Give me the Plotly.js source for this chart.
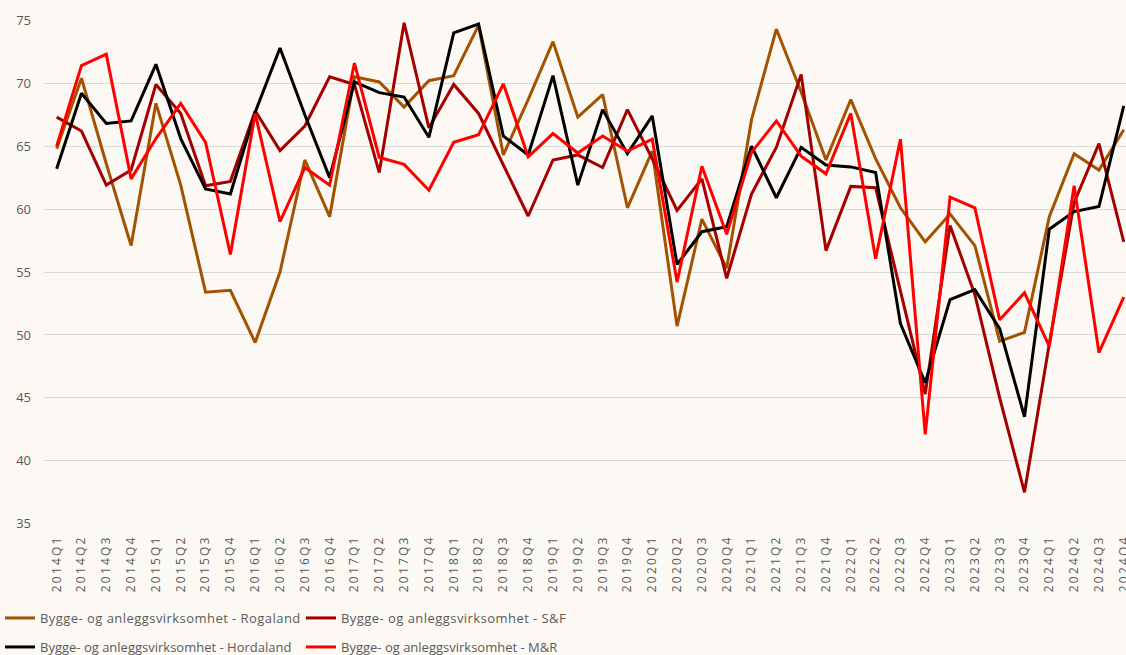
<!DOCTYPE html>
<html>
<head>
<meta charset="utf-8">
<script src="https://cdn.plot.ly/plotly-3.0.1.min.js"></script>
<style>
  html, body { margin: 0; padding: 0; background: #FCF9F4; }
  #chart { width: 1126px; height: 655px; }
  .xtick text { letter-spacing: 2.2px; }
  .legendtext { letter-spacing: 0.45px; }
</style>
</head>
<body>
<div id="chart"></div>
<script>
const quarters = [
  "2014Q1","2014Q2","2014Q3","2014Q4",
  "2015Q1","2015Q2","2015Q3","2015Q4",
  "2016Q1","2016Q2","2016Q3","2016Q4",
  "2017Q1","2017Q2","2017Q3","2017Q4",
  "2018Q1","2018Q2","2018Q3","2018Q4",
  "2019Q1","2019Q2","2019Q3","2019Q4",
  "2020Q1","2020Q2","2020Q3","2020Q4",
  "2021Q1","2021Q2","2021Q3","2021Q4",
  "2022Q1","2022Q2","2022Q3","2022Q4",
  "2023Q1","2023Q2","2023Q3","2023Q4",
  "2024Q1","2024Q2","2024Q3","2024Q4"
];

const rogaland = [
  64.8, 70.4, 63.6, 57.1,
  68.4, 61.9, 53.4, 53.55,
  49.4, 55.0, 63.9, 59.4,
  70.5, 70.1, 68.1, 70.2,
  70.6, 74.6, 64.3, 68.7,
  73.3, 67.3, 69.1, 60.1,
  64.6, 50.7, 59.2, 55.3,
  67.1, 74.3, 69.3, 63.9,
  68.7, 64.0, 60.1, 57.4,
  59.6, 57.1, 49.5, 50.2,
  59.4, 64.4, 63.1, 66.3
];

const hordaland = [
  63.2, 69.2, 66.8, 67.0,
  71.5, 65.6, 61.6, 61.2,
  67.7, 72.8, 67.5, 62.5,
  70.1, 69.25, 68.9, 65.7,
  74.0, 74.7, 65.8, 64.3,
  70.6, 61.9, 67.9, 64.4,
  67.4, 55.6, 58.2, 58.6,
  65.0, 60.9, 64.9, 63.5,
  63.35, 62.9, 50.9, 46.2,
  52.8, 53.6, 50.5, 43.5,
  58.4, 59.8, 60.2, 68.2
];

const sognFjordane = [
  67.3, 66.2, 61.9, 63.1,
  69.9, 67.6, 61.85, 62.2,
  67.8, 64.65, 66.6, 70.5,
  69.9, 62.9, 74.8, 66.45,
  69.9, 67.6, 63.5, 59.45,
  63.9, 64.3, 63.3, 67.9,
  64.0, 59.9, 62.4, 54.5,
  61.2, 64.9, 70.7, 56.7,
  61.8, 61.7, 53.5, 45.3,
  58.7, 53.2, 45.0, 37.5,
  49.3, 60.5, 65.2, 57.4
];

const moreRomsdal = [
  65.0, 71.4, 72.3, 62.4,
  65.6, 68.4, 65.3, 56.4,
  67.6, 59.0, 63.3, 61.9,
  71.6, 64.1, 63.55, 61.5,
  65.3, 65.9, 69.95, 64.15,
  66.0, 64.45, 65.8, 64.6,
  65.55, 54.2, 63.4, 58.0,
  64.5, 67.0, 64.2, 62.8,
  67.6, 56.05, 65.55, 42.1,
  60.95, 60.1, 51.2, 53.35,
  49.1, 61.85, 48.6, 53.0
];

const seriesNames = [
  "Bygge- og anleggsvirksomhet - Rogaland",
  "Bygge- og anleggsvirksomhet - S&F",
  "Bygge- og anleggsvirksomhet - Hordaland",
  "Bygge- og anleggsvirksomhet - M&R"
];
const yTicks = [35, 40, 45, 50, 55, 60, 65, 70, 75];

const colors = { rog: "#A35200", sf: "#A50000", hor: "#000000", mr: "#FF0000" };

function tr(y, name, color, legend) {
  return {
    type: "scatter", mode: "lines", x: quarters, y: y, name: name,
    line: { color: color, width: 3 }, legend: legend,
    hoverinfo: "x+y+name"
  };
}

const data = [
  tr(rogaland, seriesNames[0], colors.rog, "legend"),
  tr(sognFjordane, seriesNames[1], colors.sf, "legend"),
  tr(hordaland, seriesNames[2], colors.hor, "legend2"),
  tr(moreRomsdal, seriesNames[3], colors.mr, "legend2")
];

const font = { family: "Open Sans, Noto Sans, sans-serif", color: "#595959" };

const legendBase = {
  orientation: "h", xref: "container", yref: "container",
  x: -0.002, xanchor: "left", yanchor: "middle",
  bgcolor: "rgba(0,0,0,0)", borderwidth: 0,
  entrywidth: 256, entrywidthmode: "pixels",
  itemwidth: 30, tracegroupgap: 0,
  font: Object.assign({ size: 13 }, font)
};

const layout = {
  width: 1126, height: 655,
  paper_bgcolor: "#FCF9F4", plot_bgcolor: "#FCF9F4",
  margin: { l: 44, r: 0, t: 20, b: 131, pad: 0 },
  showlegend: true,
  xaxis: {
    type: "category", range: [-0.51, 43.09],
    tickangle: -90, showgrid: false, zeroline: false, showline: false,
    ticks: "", ticklabelstandoff: 8,
    tickfont: Object.assign({ size: 12 }, font),
    fixedrange: true
  },
  yaxis: {
    range: [34.98, 75.02], tickvals: yTicks, ticktext: yTicks.map(String),
    showgrid: true, gridcolor: "#D9D9D9", gridwidth: 1.3,
    zeroline: false, showline: false, ticks: "", ticklabelstandoff: 12,
    tickfont: Object.assign({ size: 13 }, font),
    fixedrange: true
  },
  legend: Object.assign({}, legendBase, { y: 1 - 618 / 655 }),
  legend2: Object.assign({}, legendBase, { y: 1 - 647 / 655 }),
  hovermode: "closest"
};

Plotly.newPlot("chart", data, layout, { displayModeBar: false, staticPlot: false });
</script>
</body>
</html>
